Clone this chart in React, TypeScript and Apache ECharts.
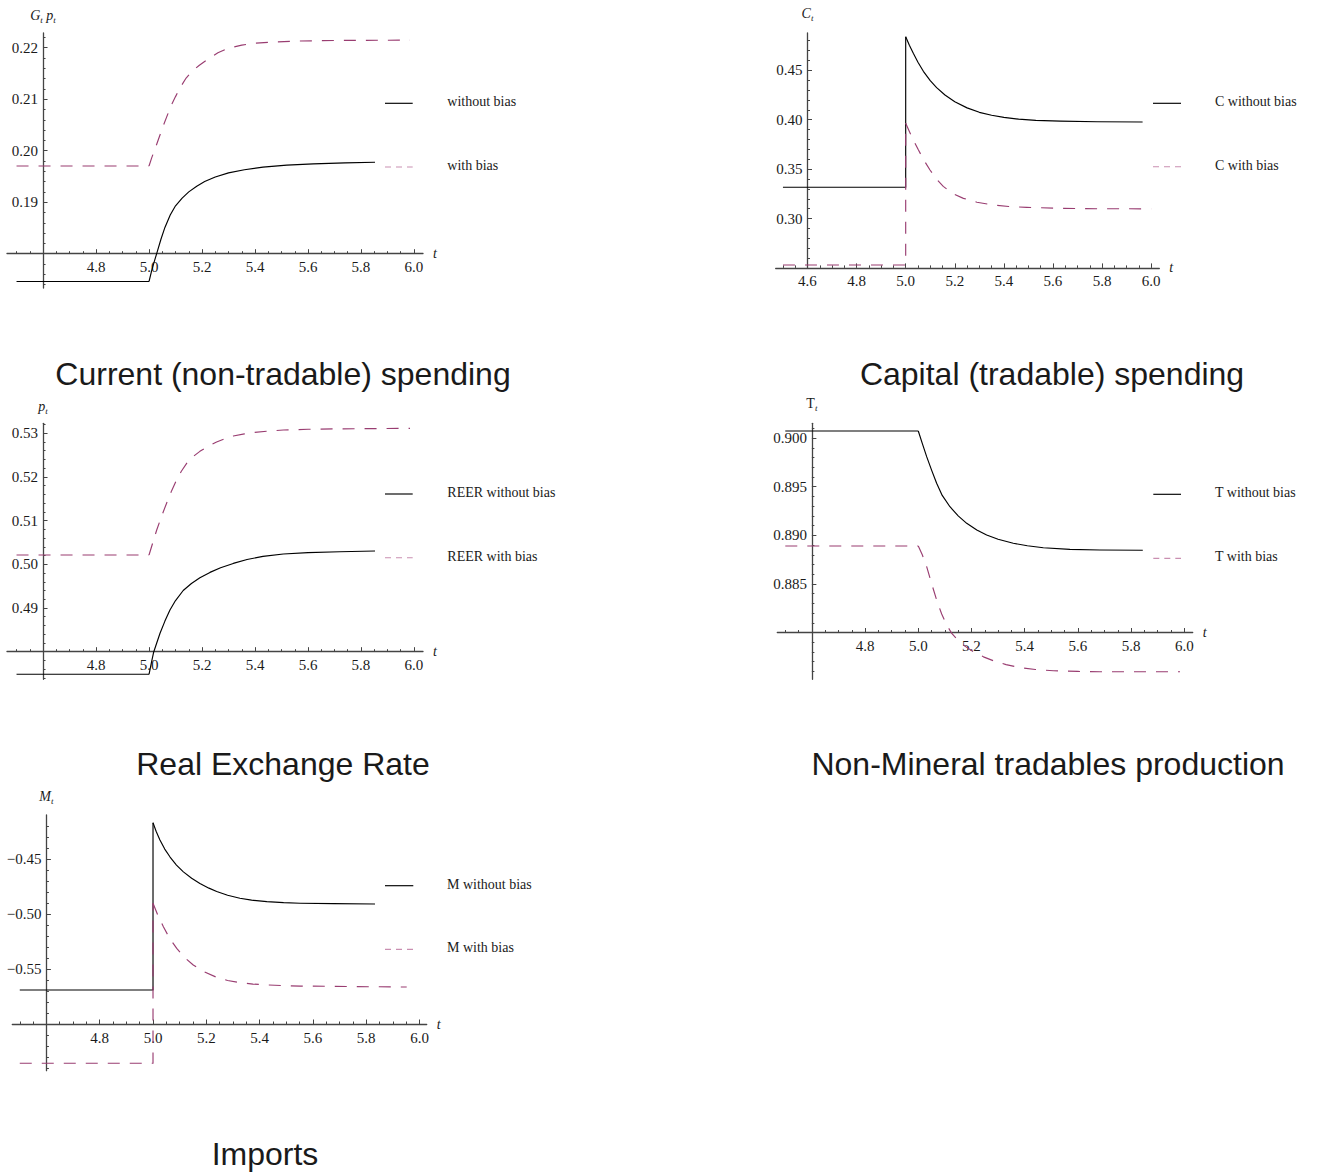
import React, { useEffect, useRef } from "react";
import * as echarts from "echarts";

type Pt = [number, number];

// ---------- Panel 1: Current (non-tradable) spending ----------
const G_WITHOUT_PRE: Pt[] = [[4.5, 0.1746], [5.0, 0.1746]];
const G_WITHOUT_POST: Pt[] = [[5.0, 0.1746], [5.01, 0.1767], [5.02, 0.1785], [5.03, 0.1802], [5.045, 0.1828], [5.06, 0.1851], [5.08, 0.1875], [5.1, 0.1893], [5.125, 0.1908], [5.15, 0.192], [5.18, 0.1931], [5.21, 0.194], [5.25, 0.1949], [5.3, 0.1957], [5.36, 0.1963], [5.43, 0.1968], [5.52, 0.1972], [5.62, 0.19745], [5.74, 0.19763], [5.853, 0.19775]];
const G_WITH_PRE: Pt[] = [[4.5, 0.19703], [5.0, 0.19703]];
const G_WITH_POST: Pt[] = [[5.0, 0.19703], [5.01, 0.1986], [5.02, 0.2], [5.03, 0.2014], [5.04, 0.20285], [5.055, 0.205], [5.07, 0.207], [5.085, 0.2089], [5.1, 0.2105], [5.12, 0.21245], [5.14, 0.2141], [5.16, 0.2153], [5.19, 0.2166], [5.22, 0.2177], [5.26, 0.219], [5.3, 0.2199], [5.35, 0.2205], [5.4, 0.22088], [5.47, 0.2211], [5.56, 0.22128], [5.7, 0.2214], [5.985, 0.22147]];
const G_X_TICKS = [4.8, 5.0, 5.2, 5.4, 5.6, 5.8, 6.0];
const G_Y_TICKS = [0.19, 0.2, 0.21, 0.22];

// ---------- Panel 2: Capital (tradable) spending ----------
const C_WITHOUT_PRE: Pt[] = [[4.5, 0.3316], [5.0, 0.3316], [5.0, 0.484]];
const C_WITHOUT_POST: Pt[] = [[5.0, 0.484], [5.015, 0.4755], [5.031, 0.4672], [5.05, 0.4582], [5.072, 0.449], [5.1, 0.4395], [5.126, 0.4325], [5.16, 0.425], [5.2, 0.4183], [5.25, 0.412], [5.3, 0.4075], [5.35, 0.4045], [5.4, 0.4024], [5.46, 0.4006], [5.53, 0.3994], [5.63, 0.3986], [5.78, 0.398], [5.965, 0.3977]];
const C_WITH_PRE: Pt[] = [[4.5, 0.2529], [5.0, 0.2529], [5.0, 0.3964]];
const C_WITH_POST: Pt[] = [[5.0, 0.3964], [5.015, 0.388], [5.03, 0.38], [5.052, 0.3693], [5.075, 0.3588], [5.099, 0.3491], [5.125, 0.34], [5.153, 0.3325], [5.19, 0.3255], [5.235, 0.3204], [5.29, 0.3165], [5.357, 0.3137], [5.42, 0.3122], [5.493, 0.3113], [5.628, 0.3103], [5.79, 0.3099], [6.0, 0.3098]];
const C_X_TICKS = [4.6, 4.8, 5.0, 5.2, 5.4, 5.6, 5.8, 6.0];
const C_Y_TICKS = [0.3, 0.35, 0.4, 0.45];

// ---------- Panel 3: Real Exchange Rate ----------
const P_WITHOUT_PRE: Pt[] = [[4.5, 0.47483], [5.0, 0.47483]];
const P_WITHOUT_POST: Pt[] = [[5.0, 0.47483], [5.01, 0.4778], [5.0177, 0.47993], [5.03, 0.48215], [5.0415, 0.48421], [5.06, 0.487], [5.079, 0.48954], [5.1, 0.4917], [5.129, 0.494], [5.16, 0.4956], [5.192, 0.4969], [5.23, 0.49815], [5.27, 0.4992], [5.318, 0.5002], [5.37, 0.5011], [5.43, 0.5018], [5.507, 0.50236], [5.6, 0.50268], [5.72, 0.50288], [5.853, 0.50304]];
const P_WITH_PRE: Pt[] = [[4.5, 0.50213], [5.0, 0.50213]];
const P_WITH_POST: Pt[] = [[5.0, 0.50213], [5.015, 0.5051], [5.029, 0.50785], [5.048, 0.5111], [5.067, 0.5141], [5.085, 0.5168], [5.104, 0.5193], [5.122, 0.5213], [5.142, 0.5231], [5.165, 0.5246], [5.192, 0.52585], [5.22, 0.5269], [5.255, 0.528], [5.29, 0.5288], [5.318, 0.52935], [5.36, 0.52985], [5.394, 0.53015], [5.45, 0.5305], [5.507, 0.53073], [5.6, 0.5309], [5.696, 0.53098], [5.985, 0.53112]];
const P_X_TICKS = [4.8, 5.0, 5.2, 5.4, 5.6, 5.8, 6.0];
const P_Y_TICKS = [0.49, 0.5, 0.51, 0.52, 0.53];

// ---------- Panel 4: Non-Mineral tradables production ----------
const T_WITHOUT_PRE: Pt[] = [[4.5, 0.90073], [5.0, 0.90073]];
const T_WITHOUT_POST: Pt[] = [[5.0, 0.90073], [5.015, 0.89945], [5.0315, 0.89809], [5.05, 0.8967], [5.069, 0.89535], [5.09, 0.8941], [5.119, 0.89294], [5.15, 0.892], [5.182, 0.89123], [5.22, 0.89055], [5.257, 0.89003], [5.3, 0.8896], [5.357, 0.88918], [5.41, 0.88893], [5.47, 0.88872], [5.57, 0.88856], [5.683, 0.88849], [5.844, 0.88846]];
const T_WITH_PRE: Pt[] = [[4.5, 0.8889], [5.0, 0.8889]];
const T_WITH_POST: Pt[] = [[5.0, 0.8889], [5.015, 0.888], [5.0315, 0.88677], [5.05, 0.88505], [5.069, 0.88334], [5.088, 0.8819], [5.107, 0.88077], [5.125, 0.87995], [5.144, 0.87935], [5.175, 0.8786], [5.207, 0.87802], [5.245, 0.8775], [5.282, 0.8771], [5.33, 0.8767], [5.382, 0.8764], [5.44, 0.8762], [5.508, 0.87607], [5.6, 0.876], [5.683, 0.87597], [5.984, 0.87597]];
const T_X_TICKS = [4.8, 5.0, 5.2, 5.4, 5.6, 5.8, 6.0];
const T_Y_TICKS = [0.885, 0.89, 0.895, 0.9];

// ---------- Panel 5: Imports ----------
const M_WITHOUT_PRE: Pt[] = [[4.5, -0.5691], [5.0, -0.5691], [5.0, -0.417]];
const M_WITHOUT_POST: Pt[] = [[5.0, -0.417], [5.012, -0.425], [5.026, -0.4327], [5.044, -0.441], [5.064, -0.4482], [5.088, -0.4555], [5.114, -0.4617], [5.145, -0.4675], [5.176, -0.4722], [5.21, -0.4765], [5.239, -0.4795], [5.28, -0.483], [5.326, -0.4857], [5.37, -0.4874], [5.427, -0.4888], [5.49, -0.4897], [5.552, -0.4902], [5.677, -0.4906], [5.833, -0.4909]];
const M_WITH_PRE: Pt[] = [[4.5, -0.6357], [5.0, -0.6357], [5.0, -0.4903]];
const M_WITH_POST: Pt[] = [[5.0, -0.4903], [5.018, -0.501], [5.039, -0.5115], [5.062, -0.522], [5.089, -0.5312], [5.118, -0.5395], [5.151, -0.5464], [5.19, -0.5523], [5.239, -0.5576], [5.28, -0.5604], [5.326, -0.5624], [5.375, -0.5637], [5.427, -0.5645], [5.49, -0.5651], [5.552, -0.5655], [5.677, -0.5658], [5.952, -0.5664]];
const M_X_TICKS = [4.8, 5.0, 5.2, 5.4, 5.6, 5.8, 6.0];
const M_Y_TICKS = [-0.55, -0.5, -0.45];

const SERIF = '"Liberation Serif", "Times New Roman", Times, serif';
const SANS = '"Liberation Sans", Arial, Helvetica, sans-serif';
const AXIS_COLOR = "#444444";
const TEXT_COLOR = "#1a1a1a";
const SOLID_COLOR = "#000000";
const DASH_COLOR = "#993d71";
const LEGEND_DASH_COLOR = "#c98fb1";

interface PanelCfg {
  title: string;
  yName: string;
  legend: [string, string];
  origin: Pt;
  xRange: Pt;
  yRange: Pt;
  xTicks: number[];
  yTicks: number[];
  yDigits: number;
  xMinor: [number, number, number];
  yMinor: [number, number, number];
  data: [Pt[], Pt[], Pt[], Pt[]];
  box: { left: number; top: number; right: number; bottom: number };
  leg: { x1: number; x2: number; y1: number; y2: number; tx: number };
  tpos: { cx: number; baseline: number };
  yNameGap: number;
}

const PANELS: PanelCfg[] = [
  {
    title: "Current (non-tradable) spending",
    yName: "{i|G}{s|t}{i| p}{s|t}",
    legend: ["without bias", "with bias"],
    origin: [4.6, 0.18],
    xRange: [4.464, 6.034],
    yRange: [0.17334, 0.22285],
    xTicks: G_X_TICKS,
    yTicks: G_Y_TICKS,
    yDigits: 2,
    xMinor: [4.5, 6.0, 0.05],
    yMinor: [0.174, 0.222, 0.002],
    data: [G_WITHOUT_PRE, G_WITHOUT_POST, G_WITH_PRE, G_WITH_POST],
    box: { left: 7, top: 33, right: 423, bottom: 288 },
    leg: { x1: 385, x2: 412.7, y1: 103.3, y2: 167, tx: 447.3 },
    tpos: { cx: 283, baseline: 385 },
    yNameGap: 9,
  },
  {
    title: "Capital (tradable) spending",
    yName: "{i|C}{s|t}",
    legend: ["C without bias", "C with bias"],
    origin: [4.6, 0.25],
    xRange: [4.4705, 6.033],
    yRange: [0.25, 0.4878],
    xTicks: C_X_TICKS,
    yTicks: C_Y_TICKS,
    yDigits: 2,
    xMinor: [4.5, 6.0, 0.05],
    yMinor: [0.26, 0.48, 0.01],
    data: [C_WITHOUT_PRE, C_WITHOUT_POST, C_WITH_PRE, C_WITH_POST],
    box: { left: 775.7, top: 33, right: 1159.3, bottom: 267.9 },
    leg: { x1: 1153, x2: 1181, y1: 103.3, y2: 166.7, tx: 1215 },
    tpos: { cx: 1052, baseline: 385 },
    yNameGap: 11,
  },
  {
    title: "Real Exchange Rate",
    yName: "{i|p}{s|t}",
    legend: ["REER without bias", "REER with bias"],
    origin: [4.6, 0.48],
    xRange: [4.464, 6.034],
    yRange: [0.47368, 0.53227],
    xTicks: P_X_TICKS,
    yTicks: P_Y_TICKS,
    yDigits: 2,
    xMinor: [4.5, 6.0, 0.05],
    yMinor: [0.474, 0.532, 0.002],
    data: [P_WITHOUT_PRE, P_WITHOUT_POST, P_WITH_PRE, P_WITH_POST],
    box: { left: 7, top: 423.3, right: 423, bottom: 679.3 },
    leg: { x1: 385, x2: 412.7, y1: 494, y2: 557.7, tx: 447.3 },
    tpos: { cx: 283, baseline: 775 },
    yNameGap: 8,
  },
  {
    title: "Non-Mineral tradables production",
    yName: "{r|T}{s|t}",
    legend: ["T without bias", "T with bias"],
    origin: [4.6, 0.88],
    xRange: [4.47, 6.0316],
    yRange: [0.87519, 0.90152],
    xTicks: T_X_TICKS,
    yTicks: T_Y_TICKS,
    yDigits: 3,
    xMinor: [4.5, 6.0, 0.05],
    yMinor: [0.876, 0.901, 0.001],
    data: [T_WITHOUT_PRE, T_WITHOUT_POST, T_WITH_PRE, T_WITH_POST],
    box: { left: 777.3, top: 423.3, right: 1192.7, bottom: 679.3 },
    leg: { x1: 1153.3, x2: 1181, y1: 494.3, y2: 558.3, tx: 1215 },
    tpos: { cx: 1048, baseline: 775 },
    yNameGap: 11,
  },
  {
    title: "Imports",
    yName: "{i|M}{s|t}",
    legend: ["M without bias", "M with bias"],
    origin: [4.6, -0.6],
    xRange: [4.472, 6.027],
    yRange: [-0.64245, -0.41],
    xTicks: M_X_TICKS,
    yTicks: M_Y_TICKS,
    yDigits: 2,
    xMinor: [4.5, 6.0, 0.05],
    yMinor: [-0.64, -0.42, 0.01],
    data: [M_WITHOUT_PRE, M_WITHOUT_POST, M_WITH_PRE, M_WITH_POST],
    box: { left: 12.3, top: 815, right: 426.7, bottom: 1070.7 },
    leg: { x1: 385, x2: 413.3, y1: 885.7, y2: 949.3, tx: 447 },
    tpos: { cx: 265, baseline: 1165 },
    yNameGap: 10,
  },
];

function steps(lo: number, hi: number, step: number): number[] {
  const out: number[] = [];
  const n = Math.round((hi - lo) / step);
  for (let i = 0; i <= n; i++) out.push(+(lo + i * step).toFixed(6));
  return out;
}

function minorTicks(spec: [number, number, number], majors: number[], origin: number): number[] {
  return steps(spec[0], spec[1], spec[2]).filter(
    (v) => !majors.some((m) => Math.abs(m - v) < 1e-7) && Math.abs(v - origin) > 1e-7
  );
}

function fmt(v: number, digits: number): string {
  let s = v.toFixed(digits);
  if (s.startsWith("-")) s = "\u2212" + s.slice(1);
  return s;
}

const nameRich = {
  i: { fontStyle: "italic", fontFamily: SERIF, fontSize: 14, color: TEXT_COLOR, lineHeight: 18 },
  r: { fontStyle: "normal", fontFamily: SERIF, fontSize: 14, color: TEXT_COLOR, lineHeight: 18 },
  s: { fontStyle: "italic", fontFamily: SERIF, fontSize: 9, color: TEXT_COLOR, lineHeight: 10, verticalAlign: "bottom" },
};

function buildOption() {
  const grid: any[] = [];
  const xAxis: any[] = [];
  const yAxis: any[] = [];
  const series: any[] = [];
  const elements: any[] = [];

  PANELS.forEach((p, k) => {
    const mainIdx = 2 * k;
    grid.push({
      left: p.box.left,
      top: p.box.top,
      width: p.box.right - p.box.left,
      height: p.box.bottom - p.box.top,
      containLabel: false,
      outerBoundsMode: "none",
    });
    const xMinor = minorTicks(p.xMinor, p.xTicks, p.origin[0]);
    const yMinor = minorTicks(p.yMinor, p.yTicks, p.origin[1]);

    xAxis.push({
      type: "value",
      gridIndex: k,
      position: "bottom",
      offset: 0,
      min: p.xRange[0],
      max: p.xRange[1],
      name: "t",
      nameLocation: "end",
      nameGap: 10,
      nameTextStyle: { fontStyle: "italic", fontFamily: SERIF, fontSize: 14, color: TEXT_COLOR },
      axisLine: { show: true, onZero: false, lineStyle: { color: AXIS_COLOR, width: 1.3 } },
      axisTick: { show: true, inside: true, length: 4.5, customValues: p.xTicks, lineStyle: { color: AXIS_COLOR, width: 1 } },
      axisLabel: {
        show: true,
        customValues: p.xTicks,
        margin: 6,
        formatter: (v: number) => fmt(v, 1),
        color: TEXT_COLOR,
        fontFamily: SERIF,
        fontSize: 15,
      },
      splitLine: { show: false },
      minorTick: { show: false },
      silent: true,
    });
    xAxis.push({
      type: "value",
      gridIndex: k,
      position: "bottom",
      offset: 0,
      min: p.xRange[0],
      max: p.xRange[1],
      axisLine: { show: false, onZero: false },
      axisTick: { show: true, inside: true, length: 2.5, customValues: xMinor, lineStyle: { color: AXIS_COLOR, width: 1 } },
      axisLabel: { show: false },
      splitLine: { show: false },
      silent: true,
    });
    yAxis.push({
      type: "value",
      gridIndex: k,
      position: "left",
      offset: 0,
      min: p.yRange[0],
      max: p.yRange[1],
      name: p.yName,
      nameLocation: "end",
      nameGap: p.yNameGap,
      nameTextStyle: { rich: nameRich, fontFamily: SERIF, fontSize: 14, color: TEXT_COLOR },
      axisLine: { show: true, onZero: false, lineStyle: { color: AXIS_COLOR, width: 1.3 } },
      axisTick: { show: true, inside: true, length: 4.5, customValues: p.yTicks, lineStyle: { color: AXIS_COLOR, width: 1 } },
      axisLabel: {
        show: true,
        customValues: p.yTicks,
        margin: 5,
        formatter: (v: number) => fmt(v, p.yDigits),
        color: TEXT_COLOR,
        fontFamily: SERIF,
        fontSize: 15,
      },
      splitLine: { show: false },
      minorTick: { show: false },
      silent: true,
    });
    yAxis.push({
      type: "value",
      gridIndex: k,
      position: "left",
      offset: 0,
      min: p.yRange[0],
      max: p.yRange[1],
      axisLine: { show: false, onZero: false },
      axisTick: { show: true, inside: true, length: 2.5, customValues: yMinor, lineStyle: { color: AXIS_COLOR, width: 1 } },
      axisLabel: { show: false },
      splitLine: { show: false },
      silent: true,
    });

    const [woPre, woPost, wPre, wPost] = p.data;
    const base = {
      type: "line",
      xAxisIndex: mainIdx,
      yAxisIndex: mainIdx,
      symbol: "none",
      clip: false,
      silent: true,
      animation: false,
      smooth: false,
    };
    const solidStyle = { color: SOLID_COLOR, width: 1.15, type: "solid", join: "round" };
    const dashStyle = { color: DASH_COLOR, width: 1.15, type: [12, 10], cap: "butt", join: "round" };
    series.push({ ...base, name: p.legend[0], data: woPre, lineStyle: solidStyle, itemStyle: { color: SOLID_COLOR }, z: 2 });
    series.push({ ...base, name: p.legend[0] + " ", data: woPost, lineStyle: solidStyle, itemStyle: { color: SOLID_COLOR }, z: 2 });
    series.push({ ...base, name: p.legend[1], data: wPre, lineStyle: dashStyle, itemStyle: { color: DASH_COLOR }, z: 3 });
    series.push({ ...base, name: p.legend[1] + " ", data: wPost, lineStyle: dashStyle, itemStyle: { color: DASH_COLOR }, z: 3 });

    elements.push({
      type: "line",
      shape: { x1: p.leg.x1, y1: p.leg.y1, x2: p.leg.x2, y2: p.leg.y1 },
      style: { stroke: SOLID_COLOR, lineWidth: 1.15 },
      silent: true,
    });
    elements.push({
      type: "line",
      shape: { x1: p.leg.x1, y1: p.leg.y2, x2: p.leg.x2, y2: p.leg.y2 },
      style: { stroke: LEGEND_DASH_COLOR, lineWidth: 1.15, lineDash: [6, 5] },
      silent: true,
    });
    [p.leg.y1, p.leg.y2].forEach((ly, j) => {
      elements.push({
        type: "text",
        x: p.leg.tx,
        y: ly - 1.4,
        silent: true,
        style: {
          text: p.legend[j],
          fill: TEXT_COLOR,
          fontFamily: SERIF,
          fontSize: 14,
          align: "left",
          textAlign: "left",
          verticalAlign: "middle",
          textVerticalAlign: "middle",
        },
      });
    });
    elements.push({
      type: "text",
      x: p.tpos.cx,
      y: p.tpos.baseline - 11,
      silent: true,
      style: {
        text: p.title,
        fill: TEXT_COLOR,
        fontFamily: SANS,
        fontSize: 32,
        align: "center",
        textAlign: "center",
        verticalAlign: "middle",
        textVerticalAlign: "middle",
      },
    });
  });

  return {
    animation: false,
    backgroundColor: "#ffffff",
    grid,
    xAxis,
    yAxis,
    series,
    graphic: { elements },
  };
}

export default function App() {
  const ref = useRef<HTMLDivElement>(null);
  useEffect(() => {
    if (!ref.current) return;
    const chart = echarts.init(ref.current, undefined, { renderer: "svg" });
    chart.setOption(buildOption() as any);
    // Move the axes so that they cross at each panel's origin (computed via the chart's own scales)
    const xUpd: any[] = [];
    const yUpd: any[] = [];
    PANELS.forEach((p, k) => {
      const pix = chart.convertToPixel({ xAxisIndex: 2 * k, yAxisIndex: 2 * k } as any, p.origin as any) as any;
      const xOff = pix[1] - p.box.bottom;
      const yOff = p.box.left - pix[0];
      xUpd.push({ offset: xOff }, { offset: xOff });
      yUpd.push({ offset: yOff }, { offset: yOff });
    });
    chart.setOption({ xAxis: xUpd, yAxis: yUpd } as any);
    return () => {
      chart.dispose();
    };
  }, []);
  return (
    <div
      ref={ref}
      style={{ position: "absolute", left: 0, top: 0, width: 1319, height: 1175, background: "#fff" }}
    />
  );
}
